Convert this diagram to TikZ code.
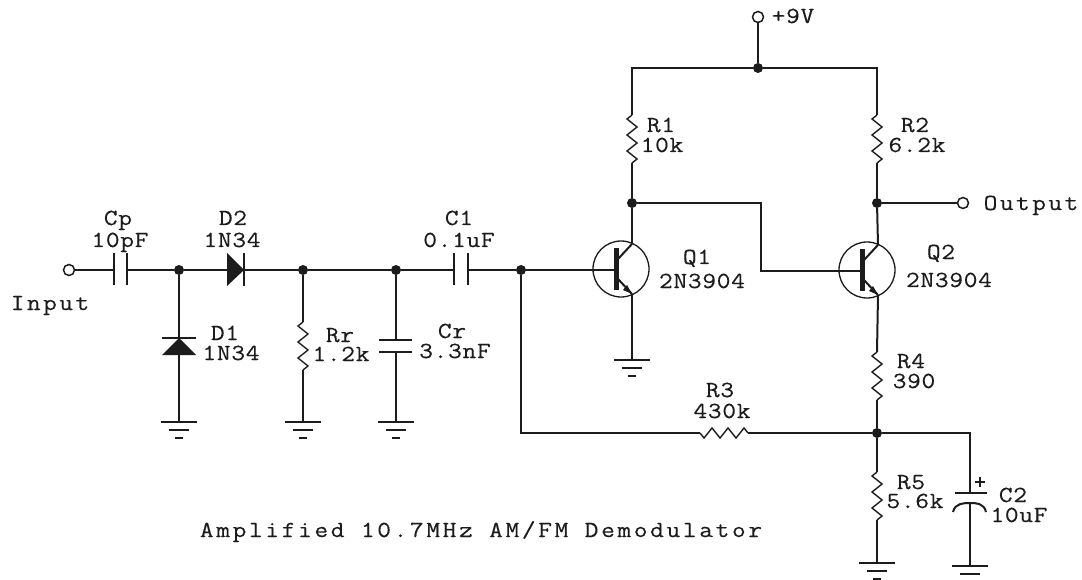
\documentclass[tikz,border=0pt]{standalone}
\usepackage{fontspec}
\newfontfamily\slab[FakeBold=0.25,FakeStretch=1.16,LetterSpace=3]{Latin Modern Mono}
\newfontfamily\wideA[FakeBold=0.25,FakeStretch=1.16,LetterSpace=10.6]{Latin Modern Mono}
\newfontfamily\wideB[FakeBold=0.25,FakeStretch=1.16,LetterSpace=11.4]{Latin Modern Mono}
\definecolor{ink}{HTML}{1C1C1C}
\tikzset{
  x=1pt,y=-1pt,
  wire/.style={draw=ink,line width=2pt,line join=miter},
  rzig/.style={draw=ink,line width=1.4pt,line join=miter},
  dotj/.style={circle,fill=ink,draw=none,inner sep=0pt,minimum size=10pt},
  term/.style={circle,draw=ink,fill=white,line width=1.5pt,inner sep=0pt,minimum size=11pt},
  labbase/.style={text=ink,inner sep=0pt,text height=14pt,text depth=0pt},
  lab/.style={labbase,font=\fontsize{23}{23}\selectfont\slab},
  labwA/.style={labbase,font=\fontsize{23}{23}\selectfont\wideA},
  labwB/.style={labbase,font=\fontsize{23}{23}\selectfont\wideB},
  npn/.pic={
    \draw[draw=ink,line width=1.3pt] (0,0) circle[radius=28];
    \fill[ink] (-7.5,-21) rectangle (-2.5,21);
    \coordinate (-b) at (-5,1);
    \coordinate (-c) at (11,-25);
    \coordinate (-e) at (11,25);
    \draw[wire] (-3,-10) -- (-c);
    \draw[wire] (-3,10) -- (-e);
    \fill[ink] (11,25) -- (2,21) -- (6,16) -- cycle;
  },
  gnd/.pic={
    \draw[wire] (-18,0) -- (18,0);
    \draw[wire] (-10,8) -- (10,8);
    \draw[wire] (-4,16) -- (4,16);
  },
  resv/.pic={
    \draw[rzig] (0,0) -- ++(-5,4) -- ++(10,8) -- ++(-10,8) -- ++(10,8) -- ++(-10,8) -- ++(10,8) -- ++(-5,4);
  },
  resh/.pic={
    \draw[rzig] (0,0) -- ++(4,5) -- ++(8,-10) -- ++(8,10) -- ++(8,-10) -- ++(8,10) -- ++(8,-10) -- ++(4,5);
  },
}
\begin{document}
\begin{tikzpicture}
\useasboundingbox[fill=white] (0,0) rectangle (1082,580);
% junctions
\node[dotj] (j1) at (179,270) {};
\node[dotj] (j2) at (303,270) {};
\node[dotj] (j3) at (396,270) {};
\node[dotj] (j4) at (521,270) {};
\node[dotj] (j5) at (632,203) {};
\node[dotj] (j6) at (877,203) {};
\node[dotj] (j7) at (758,68) {};
\node[dotj] (j8) at (877,433) {};
\node[term] (tin) at (69,270) {};
\node[term] (tout) at (963,203) {};
\node[term] (tv) at (758,17) {};
% transistors
\pic (q1) at (621,269) {npn};
\pic (q2) at (867,270) {npn};
% free ends
\coordinate (cpa) at (114,270); \coordinate (cpb) at (127,270);
\coordinate (d2a) at (227,270); \coordinate (d2k) at (244,270);
\coordinate (c1a) at (454,270); \coordinate (c1b) at (468,270);
\coordinate (d1k) at (179,338); \coordinate (d1a) at (179,355);
\coordinate (g1) at (179,422); \coordinate (g2) at (303,422);
\coordinate (g3) at (396,422); \coordinate (g4) at (632,360);
\coordinate (g5) at (877,563); \coordinate (g6) at (970,566);
\coordinate (rrt) at (303,322); \coordinate (rrb) at (303,370);
\coordinate (cra) at (396,340); \coordinate (crb) at (396,352);
\coordinate (r1t) at (632,115); \coordinate (r1b) at (632,163);
\coordinate (r2t) at (877,115); \coordinate (r2b) at (877,163);
\coordinate (r4t) at (877,352); \coordinate (r4b) at (877,400);
\coordinate (r5t) at (877,472); \coordinate (r5b) at (877,520);
\coordinate (r3l) at (700,433); \coordinate (r3r) at (748,433);
\coordinate (c2a) at (970,493); \coordinate (c2b) at (970,503);
\coordinate (qb) at (761,271);
% wires
\draw[wire] (tin) -- (cpa);
\draw[wire] (cpb) -- (j1);
\draw[wire] (j1) -- (d2a);
\draw[wire] (d2k) -- (j2);
\draw[wire] (j2) -- (j3);
\draw[wire] (j3) -- (c1a);
\draw[wire] (c1b) -- (j4);
\draw[wire] (j4) -- (q1-b);
\draw[wire] (j1) -- (d1k);
\draw[wire] (d1a) -- (g1);
\draw[wire] (j2) -- (rrt);
\draw[wire] (rrb) -- (g2);
\draw[wire] (j3) -- (cra);
\draw[wire] (crb) -- (g3);
\draw[wire] (j4) |- (r3l);
\draw[wire] (r3r) -- (j8);
\draw[wire] (q1-c) -- (j5);
\draw[wire] (q1-e) -- (g4);
\draw[wire] (j5) -| (qb) -- (q2-b);
\draw[wire] (j5) -- (r1b);
\draw[wire] (j6) -- (r2b);
\draw[wire] (r1t) |- (j7);
\draw[wire] (r2t) |- (j7);
\draw[wire] (j7) -- (tv);
\draw[wire] (j6) -- (tout);
\draw[wire] (q2-c) -- (j6);
\draw[wire] (q2-e) -- (r4t);
\draw[wire] (r4b) -- (j8);
\draw[wire] (j8) -- (r5t);
\draw[wire] (r5b) -- (g5);
\draw[wire] (j8) -| (c2a);
\draw[wire] (c2b) -- (g6);
% capacitor plates
\draw[wire] (114,253) -- (114,285);
\draw[wire] (127,253) -- (127,285);
\draw[wire] (454,253) -- (454,285);
\draw[wire] (468,253) -- (468,285);
\draw[wire] (379,340) -- (412,340);
\draw[wire] (379,352) -- (412,352);
\draw[wire] (955,493) -- (987,493);
\draw[wire] (953,512) .. controls (955,503) and (964,503) .. (970,503) .. controls (976,503) and (984,503) .. (986,512);
\draw[draw=ink,line width=1.6pt] (975,482) -- (985,482) (980,477) -- (980,487);
% diodes
\fill[ink] (227,253) -- (244,270) -- (227,286) -- cycle;
\draw[wire] (244,253) -- (244,286);
\fill[ink] (179,338) -- (196,355) -- (162,355) -- cycle;
\draw[wire] (162,338) -- (196,338);
% resistors
\pic at (rrt) {resv};
\pic at (r1t) {resv};
\pic at (r2t) {resv};
\pic at (r4t) {resv};
\pic at (r5t) {resv};
\pic at (r3l) {resh};
% grounds
\pic at (g1) {gnd};
\pic at (g2) {gnd};
\pic at (g3) {gnd};
\pic at (g4) {gnd};
\pic at (g5) {gnd};
\pic at (g6) {gnd};
% labels
\node[lab] (lcp) at (118,218) {Cp};
\node[lab] (lcpv) at (120,240) {10pF};
\node[lab] (ld2) at (233,218) {D2};
\node[lab] (ld2v) at (232,240) {1N34};
\node[labwA] (lin) at (50,303) {Input};
\node[lab] (ld1) at (225,333) {D1};
\node[lab] (ld1v) at (231,353) {1N34};
\node[lab] (lrr) at (340,335) {Rr};
\node[lab] (lrrv) at (341,354) {1.2k};
\node[lab] (lcr) at (452,331) {Cr};
\node[lab] (lcrv) at (455,351) {3.3nF};
\node[lab] (lc1) at (459,218) {C1};
\node[lab] (lc1v) at (459,240) {0.1uF};
\node[lab] (lq1) at (697,257) {Q1};
\node[lab] (lq1v) at (702,281) {2N3904};
\node[lab] (lq2) at (941,252) {Q2};
\node[lab] (lq2v) at (949,280) {2N3904};
\node[lab] (lr4) at (911,361) {R4};
\node[lab] (lr4v) at (914,381) {390};
\node[lab] (lr3) at (720,390) {R3};
\node[lab] (lr3v) at (722,411) {430k};
\node[lab] (lr5) at (911,482) {R5};
\node[lab] (lr5v) at (915,501) {5.6k};
\node[lab] (lc2) at (1013,495) {C2};
\node[lab] (lc2v) at (1019,515) {10uF};
\node[lab] (lr1) at (661,125) {R1};
\node[lab] (lr1v) at (662,145) {10k};
\node[lab] (lr2) at (915,125) {R2};
\node[lab] (lr2v) at (917,145) {6.2k};
\node[lab] (lv) at (793,16) {+9V};
\node[labwA] (lout) at (1031,203) {Output};
\node[labwB] (ltitle) at (481,530) {Amplified 10.7MHz AM/FM Demodulator};
\end{tikzpicture}
\end{document}
